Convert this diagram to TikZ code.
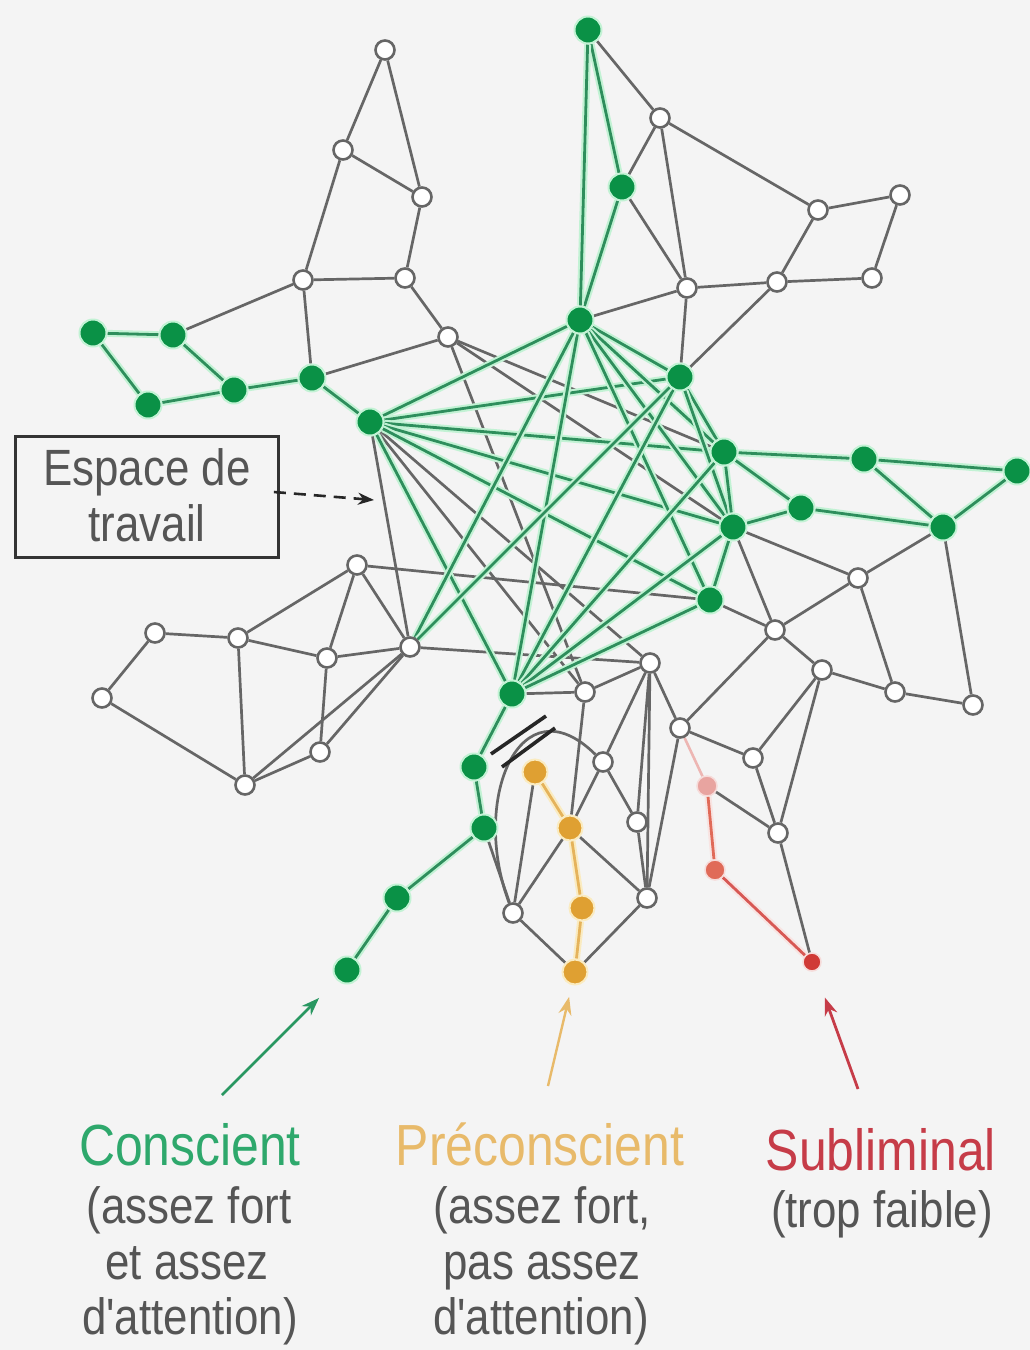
\documentclass[tikz,border=0pt]{standalone}
\usepackage{fontspec}
\setmainfont[FakeStretch=0.86,Ligatures=TeXOff]{Liberation Sans}
\usetikzlibrary{arrows.meta}
\pgfdeclarelayer{back}
\pgfdeclarelayer{edges}
\pgfsetlayers{back,edges,main}
\definecolor{bgc}{HTML}{F4F4F4}
\definecolor{edgeGray}{HTML}{666666}
\definecolor{edgeGreen}{HTML}{2E8E5C}
\definecolor{glowGreen}{HTML}{C2F2D4}
\definecolor{nodeGreen}{HTML}{0A9146}
\definecolor{nodeOrange}{HTML}{DFA032}
\definecolor{glowOrange}{HTML}{FAEBC0}
\definecolor{pinkNode}{HTML}{E8A4A0}
\definecolor{redMid}{HTML}{E06A58}
\definecolor{redNode}{HTML}{D03A36}
\definecolor{txtGreen}{HTML}{2EA86C}
\definecolor{txtOrange}{HTML}{E8BA6A}
\definecolor{txtRed}{HTML}{C63C48}
\definecolor{txtGray}{HTML}{555555}
\begin{document}
\begin{tikzpicture}[x=1pt,y=-1pt,
  wn/.style={circle,draw=edgeGray,line width=2.6pt,fill=white,minimum size=19pt,inner sep=0pt},
  gn/.style={circle,fill=nodeGreen,draw=glowGreen,line width=2pt,minimum size=27pt,inner sep=0pt},
  on/.style={circle,fill=nodeOrange,draw=glowOrange,line width=2pt,minimum size=25pt,inner sep=0pt},
  rn/.style={circle,inner sep=0pt,minimum size=20pt,draw=pinkNode!40,line width=1.5pt},
  ge/.style={draw=edgeGray,line width=2.7pt},
  gr/.style={draw=edgeGreen,line width=2.8pt,preaction={draw=glowGreen,line width=7pt}},
  oe/.style={draw=nodeOrange!80,line width=2.8pt,preaction={draw=glowOrange,line width=7pt}},
  ttl/.style={font=\fontsize{58}{62}\selectfont,anchor=base,inner sep=0pt},
  sub/.style={font=\fontsize{51}{56}\selectfont,anchor=base,inner sep=0pt,text=txtGray},
  inarrow/.style={line width=2.8pt,-{Stealth[length=18pt,width=13pt]}}
]
\begin{pgfonlayer}{back}
\fill[bgc] (0,0) rectangle (1030,1350);
\end{pgfonlayer}
\useasboundingbox (0,0) rectangle (1030,1350);

% ---------- green nodes
\node[gn] (G1) at (588,30) {};
\node[gn] (G2) at (622,187) {};
\node[gn] (G3) at (580,320) {};
\node[gn] (G4) at (680,377) {};
\node[gn] (L1) at (93,333) {};
\node[gn] (L2) at (173,335) {};
\node[gn] (L3) at (148,405) {};
\node[gn] (L4) at (234,390) {};
\node[gn] (L5) at (312,378) {};
\node[gn] (W) at (370,422) {};
\node[gn] (R1) at (724,452) {};
\node[gn] (R2) at (864,459) {};
\node[gn] (R3) at (1017,471) {};
\node[gn] (R4) at (801,508) {};
\node[gn] (R5) at (733,527) {};
\node[gn] (R6) at (943,527) {};
\node[gn] (R7) at (710,600) {};
\node[gn] (B) at (512,694) {};
\node[gn] (C1) at (474,767) {};
\node[gn] (C2) at (484,828) {};
\node[gn] (C3) at (397,898) {};
\node[gn] (C4) at (347,970) {};

% ---------- white nodes
\node[wn] (N1) at (385,50) {};
\node[wn] (N2) at (343,150) {};
\node[wn] (N3) at (422,197) {};
\node[wn] (N4) at (303,280) {};
\node[wn] (N5) at (405,278) {};
\node[wn] (N6) at (448,337) {};
\node[wn] (N7) at (660,118) {};
\node[wn] (N8) at (818,210) {};
\node[wn] (N9) at (900,195) {};
\node[wn] (N10) at (687,288) {};
\node[wn] (N11) at (777,282) {};
\node[wn] (N12) at (872,278) {};
\node[wn] (N13) at (357,565) {};
\node[wn] (N14) at (155,633) {};
\node[wn] (N15) at (238,638) {};
\node[wn] (N16) at (327,658) {};
\node[wn] (N17) at (410,647) {};
\node[wn] (N18) at (102,698) {};
\node[wn] (N19) at (245,785) {};
\node[wn] (N20) at (320,752) {};
\node[wn] (N21) at (650,663) {};
\node[wn] (N22) at (585,692) {};
\node[wn] (N23) at (822,670) {};
\node[wn] (N24) at (680,728) {};
\node[wn] (N25) at (603,762) {};
\node[wn] (N26) at (753,758) {};
\node[wn] (N27) at (637,822) {};
\node[wn] (N28) at (778,833) {};
\node[wn] (N29) at (513,913) {};
\node[wn] (N30) at (647,898) {};
\node[wn] (N31) at (858,578) {};
\node[wn] (N32) at (775,630) {};
\node[wn] (N34) at (895,692) {};
\node[wn] (N35) at (973,705) {};

% ---------- orange and red nodes
\node[on] (O1) at (535,772) {};
\node[on] (O2) at (570,828) {};
\node[on] (O3) at (582,908) {};
\node[on] (O4) at (575,972) {};
\node[rn,fill=pinkNode] (P1) at (707,786) {};
\node[rn,fill=redMid] (P2) at (715,870) {};
\node[rn,fill=redNode,minimum size=18pt] (P3) at (812,962) {};

\begin{pgfonlayer}{edges}
% gray edges
\foreach \a/\b in {N1/N2,N1/N3,N2/N3,N2/N4,N3/N5,N4/N5,N4/L2,N4/L5,N5/N6,N6/L5,
  G1/N7,N7/G2,N7/N10,N7/N8,G2/N10,N8/N9,N9/N12,N8/N11,N11/N12,N10/N11,G3/N10,N10/G4,N11/G4,
  R6/N31,R5/N31,N31/N32,N31/N34,R6/N35,N34/N35,N23/N34,R5/N32,R7/N32,N32/N23,N32/N24,
  N23/N26,N23/N28,N26/N28,N24/N26,N21/N24,N24/N30,P1/N28,N28/P3,
  N14/N15,N14/N18,N18/N19,N15/N19,N15/N13,N15/N16,N13/N16,N13/N17,N16/N17,N16/N20,
  N19/N20,N19/N17,N20/N17,
  N6/R5,N6/R1,N6/N22,W/N21,W/N22,W/N17,N13/R7,N17/N21,
  B/N22,C2/N29,N21/N22,N21/N25,N21/N27,N25/N27,N27/N30,N21/N30,
  O1/N29,O2/N29,O4/N29,O4/N30,O2/N30,N25/O2,N22/O2}
  \draw[ge] (\a) -- (\b);
\draw[ge] (N29) .. controls (470,800) and (520,680) .. (N25);
% pink / red path
\draw[draw=pinkNode!80,line width=2.6pt] (N24) -- (P1);
\draw[draw=redMid,line width=2.8pt,preaction={draw=pinkNode!30,line width=7pt}] (P1) -- (P2);
\draw[draw=redNode!85,line width=2.8pt,preaction={draw=pinkNode!30,line width=7pt}] (P2) -- (P3);
% orange path
\foreach \a/\b in {O1/O2,O2/O3,O3/O4}
  \draw[oe] (\a) -- (\b);
% green edges
\foreach \a/\b in {L1/L2,L1/L3,L2/L4,L3/L4,L4/L5,L5/W,G1/G2,G2/G3,G1/G3,
  G4/R1,R1/R2,R2/R3,R1/R4,R2/R6,R3/R6,R4/R5,R4/R6,R5/R7,
  B/C1,C1/C2,C2/C3,C3/C4,
  W/G3,W/G4,W/R1,W/R5,W/R7,W/B,G3/G4,G3/R1,G3/R5,G3/R7,G3/B,G3/N17,
  G4/R5,G4/B,G4/N17,R1/R5,R1/B,R5/B,R7/B}
  \draw[gr] (\a) -- (\b);
\end{pgfonlayer}

% blocking ticks
\coordinate (t1a) at (491,754); \coordinate (t1b) at (546,716);
\coordinate (t2a) at (502,767); \coordinate (t2b) at (555,728);
\draw[black!85,line width=3.6pt] (t1a) -- (t1b);
\draw[black!85,line width=3.6pt] (t2a) -- (t2b);

% workspace label
\node[draw=black!80,line width=2.8pt,minimum width=263pt,minimum height=121pt,inner sep=0pt] (box) at (147,497) {};
\node[sub] (bx1) at (147,485) {Espace de};
\node[sub] (bx2) at (147,541) {travail};
\coordinate (wsTip) at (374,500);
\draw[black!85,line width=2.6pt,dash pattern=on 12pt off 8pt,-{Stealth[length=16pt,width=12pt]}] ([xshift=-6pt,yshift=5pt]box.east) -- (wsTip);

% input arrows
\coordinate (gA) at (222,1095);
\coordinate (oA) at (548,1086);
\coordinate (rA) at (858,1089);
\draw[inarrow,draw=txtGreen!90!black,fill=txtGreen!90!black,shorten >=25pt] (gA) -- (C4);
\draw[inarrow,draw=txtOrange,fill=txtOrange,shorten >=12pt,line width=2.4pt] (oA) -- (O4);
\draw[inarrow,draw=txtRed,fill=txtRed,shorten >=28pt] (rA) -- (P3);

% legend texts
\node[ttl,text=txtGreen] (t1) at (190,1165) {Conscient};
\node[sub] (t1b) at (189,1223) {(assez fort};
\node[sub] (t1c) at (187,1279) {et assez};
\node[sub] (t1d) at (190,1334) {d'attention)};
\node[ttl,text=txtOrange] (t2) at (540,1165) {Préconscient};
\node[sub] (t2b) at (542,1223) {(assez fort,};
\node[sub] (t2c) at (542,1279) {pas assez};
\node[sub] (t2d) at (541,1334) {d'attention)};
\node[ttl,text=txtRed] (t3) at (881,1170) {Subliminal};
\node[sub] (t3b) at (882,1227) {(trop faible)};
\end{tikzpicture}
\end{document}
